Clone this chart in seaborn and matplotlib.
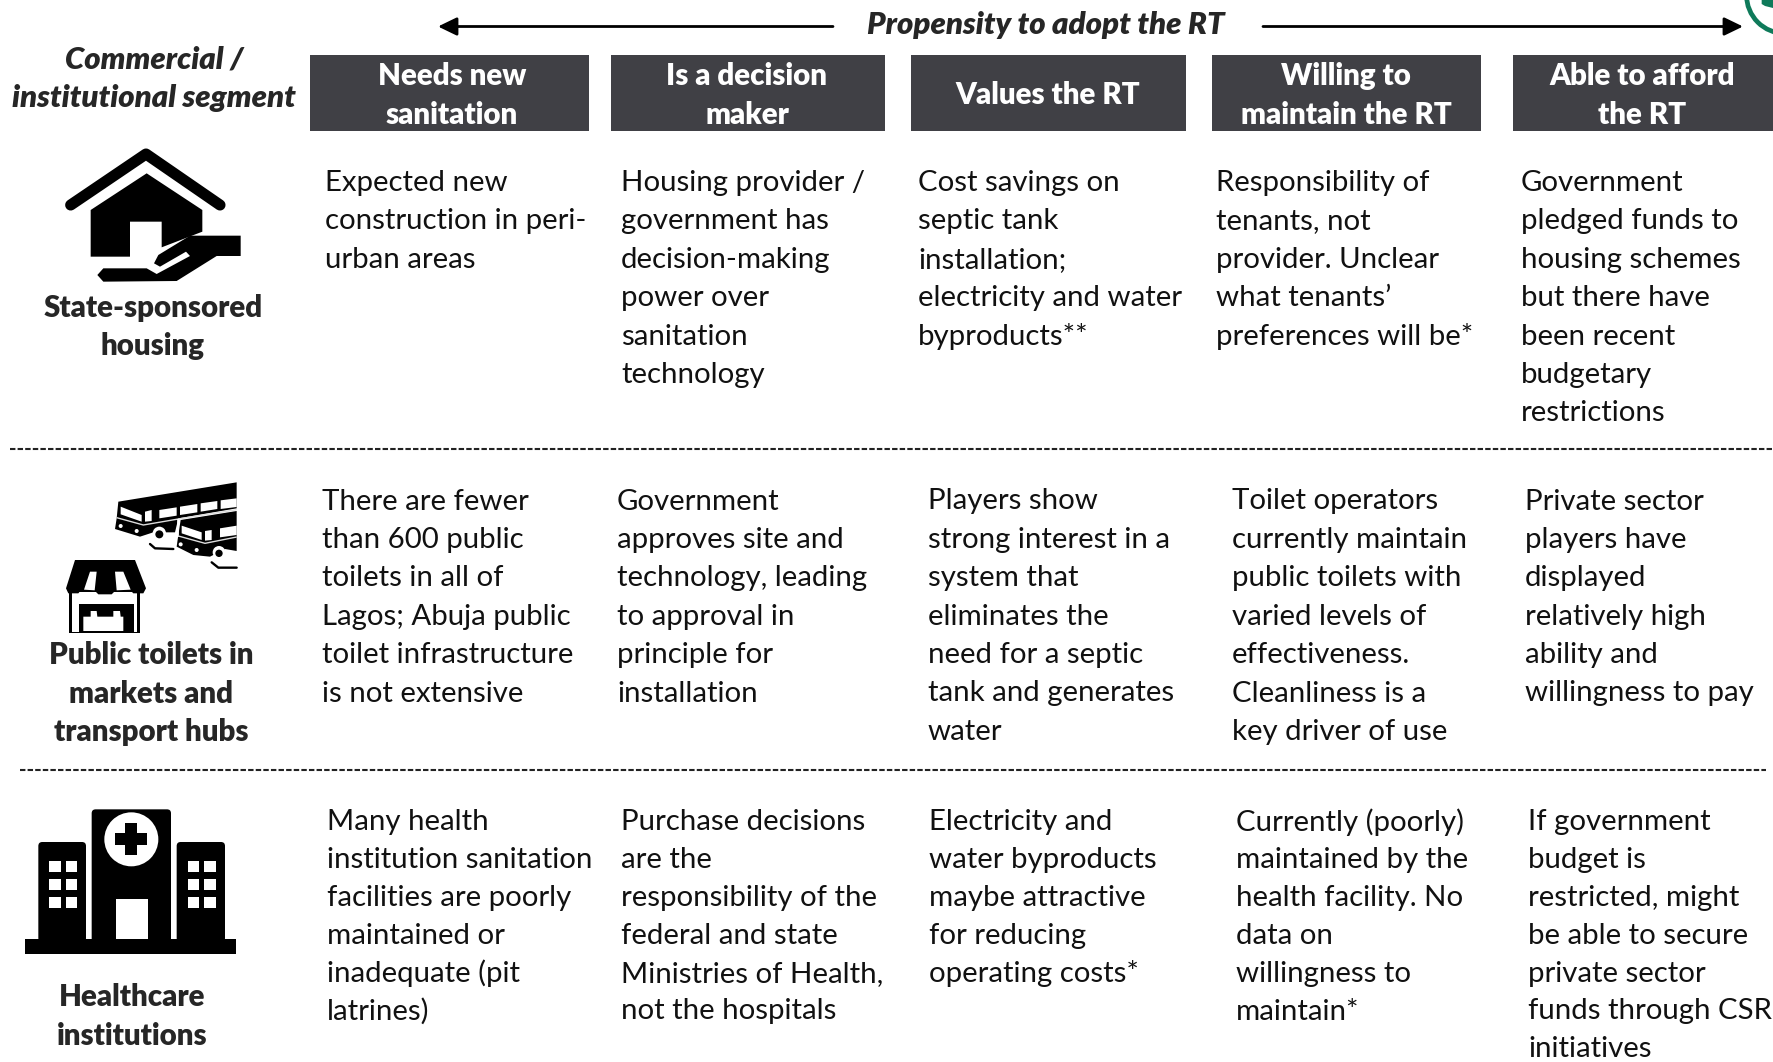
import matplotlib
matplotlib.use("Agg")
import matplotlib.pyplot as plt
from matplotlib.patches import Polygon, Rectangle, FancyBboxPatch, Circle
import seaborn as sns

sns.set_theme(style="white")
plt.rcParams['font.family'] = ['Lato', 'DejaVu Sans']

HEADER_COLOR = "#404045"
GREEN = "#0f7a5a"
BODY_SIZE = 21.15
BOLD_SIZE = 21.25
BOLD_WEIGHT = 800
LINE_H = 38.4

title = "Propensity to adopt the RT"
segment_title = ["Commercial /", "institutional segment"]
headers = ["Needs new\nsanitation", "Is a decision\nmaker", "Values the RT",
           "Willing to\nmaintain the RT", "Able to afford\nthe RT"]
header_left = [310, 611, 911, 1212, 1513]
header_right = [589, 885, 1186, 1481, 1773]
header_center = [452, 747, 1048, 1346, 1642]

row_labels = ["State-sponsored\nhousing", "Public toilets in\nmarkets and\ntransport hubs",
              "Healthcare\ninstitutions"]
row_label_x = [153, 151, 132]
row_label_y = [308, 655.5, 997.5]

col_x = [[325, 621, 918, 1216, 1521],
         [322, 617, 928, 1232, 1525],
         [327, 621, 929, 1236, 1528]]
row_y = [183, 501.5, 822]
row_step = [38.4, 38.4, 37.9]

cells = [
    ["Expected new\nconstruction in peri-\nurban areas",
     "Housing provider /\ngovernment has\ndecision-making\npower over\nsanitation\ntechnology",
     "Cost savings on\nseptic tank\ninstallation;\nelectricity and water\nbyproducts**",
     "Responsibility of\ntenants, not\nprovider. Unclear\nwhat tenants’\npreferences will be*",
     "Government\npledged funds to\nhousing schemes\nbut there have\nbeen recent\nbudgetary\nrestrictions"],
    ["There are fewer\nthan 600 public\ntoilets in all of\nLagos; Abuja public\ntoilet infrastructure\nis not extensive",
     "Government\napproves site and\ntechnology, leading\nto approval in\nprinciple for\ninstallation",
     "Players show\nstrong interest in a\nsystem that\neliminates the\nneed for a septic\ntank and generates\nwater",
     "Toilet operators\ncurrently maintain\npublic toilets with\nvaried levels of\neffectiveness.\nCleanliness is a\nkey driver of use",
     "Private sector\nplayers have\ndisplayed\nrelatively high\nability and\nwillingness to pay"],
    ["Many health\ninstitution sanitation\nfacilities are poorly\nmaintained or\ninadequate (pit\nlatrines)",
     "Purchase decisions\nare the\nresponsibility of the\nfederal and state\nMinistries of Health,\nnot the hospitals",
     "Electricity and\nwater byproducts\nmaybe attractive\nfor reducing\noperating costs*",
     "Currently (poorly)\nmaintained by the\nhealth facility. No\ndata on\nwillingness to\nmaintain*",
     "If government\nbudget is\nrestricted, might\nbe able to secure\nprivate sector\nfunds through CSR\ninitiatives"],
]

fig = plt.figure(figsize=(17.73, 10.62), dpi=100, facecolor="white")
ax = fig.add_axes([0, 0, 1, 1])
ax.set_xlim(0, 1773)
ax.set_ylim(1062, 0)
ax.axis("off")


def lines(txt, x, y, step, **kw):
    for i, p in enumerate(txt.split("\n")):
        ax.text(x, y + i * step, p, va="center", **kw)


def poly(pts, ox=0.0, oy=0.0, s=1 / 3, color="black", **kw):
    ax.add_patch(Polygon([(ox + a * s, oy + b * s) for a, b in pts],
                         closed=True, facecolor=color, edgecolor="none", **kw))


def stroke(pts, ox=0.0, oy=0.0, s=1 / 3, lw=3, color="black", cap="round"):
    ax.plot([ox + a * s for a, _ in pts], [oy + b * s for _, b in pts], color=color,
            lw=lw, solid_capstyle=cap, solid_joinstyle="round")


def disc(cx, cy, r, ox=0.0, oy=0.0, s=1 / 3, color="white"):
    ax.add_patch(Circle((ox + cx * s, oy + cy * s), r * s, facecolor=color, edgecolor="none"))


# --- top arrows and title
for tail, tip in [(833, 438), (1263, 1743)]:
    ax.annotate("", xy=(tip, 26.5), xytext=(tail, 26.5),
                arrowprops=dict(arrowstyle="-|>,head_length=0.95,head_width=0.46", color="black",
                                lw=2.0, shrinkA=0, shrinkB=0, mutation_scale=12))
ax.text(1046, 25, title, ha="center", va="center", fontsize=22.4, fontweight=BOLD_WEIGHT, style="italic")
for i, p in enumerate(segment_title):
    ax.text(154, 60 + i * LINE_H, p, ha="center", va="center", fontsize=22.4,
            fontweight=BOLD_WEIGHT, style="italic")

# --- green ring clipped at the corner
ax.add_patch(Circle((1785, -5), 38.5, facecolor="none", edgecolor=GREEN, lw=3.4))
poly([(185, 0), (219, 0), (219, 24), (195, 18), (185, 12)], ox=1700, oy=0, color=GREEN)

# --- header boxes
for l, r, c, h in zip(header_left, header_right, header_center, headers):
    ax.add_patch(Rectangle((l, 55), r - l, 76, facecolor=HEADER_COLOR, edgecolor="none"))
    parts = h.split("\n")
    y0 = 95.5 - (len(parts) - 1) * LINE_H / 2
    for i, p in enumerate(parts):
        ax.text(c, y0 + i * LINE_H, p, ha="center", va="center", color="white",
                fontsize=BOLD_SIZE, fontweight=BOLD_WEIGHT)

# --- body cells
for xs, y, step, row in zip(col_x, row_y, row_step, cells):
    for x, cell in zip(xs, row):
        lines(cell, x, y, step, ha="left", fontsize=BODY_SIZE, color="#111111")

# --- row labels
for lab, x, y in zip(row_labels, row_label_x, row_label_y):
    for i, p in enumerate(lab.split("\n")):
        ax.text(x, y + i * LINE_H, p, ha="center", va="center", fontsize=BOLD_SIZE,
                fontweight=BOLD_WEIGHT)

# --- dashed separators
ax.plot([10, 1773], [449, 449], color="#222222", lw=1.5, dashes=(2.6, 1.05))
ax.plot([20, 1766], [770, 770], color="#222222", lw=1.5, dashes=(2.6, 1.05))

# --- house icon
stroke([(212, 615), (438, 462), (660, 615)], lw=8)
poly([(272, 630), (440, 520), (607, 630), (607, 695), (485, 742), (485, 665), (390, 665),
      (390, 770), (272, 770)])
poly([(722, 707), (722, 768), (650, 768), (530, 843), (310, 845), (292, 825), (310, 805),
      (440, 805), (470, 822), (570, 768), (558, 755), (480, 800), (462, 790), (475, 765),
      (570, 707)])

# --- buses (origin 110,475 at 3x)
BX, BY = 110, 475
poly([(25, 80), (380, 22), (380, 100), (205, 130), (195, 172), (130, 172), (90, 185),
      (15, 162), (20, 130)], BX, BY)
for pts in [[(32, 95), (95, 120), (95, 140), (32, 118)],
            [(105, 110), (125, 105), (125, 138), (105, 140)],
            [(148, 105), (200, 97), (200, 122), (148, 130)],
            [(210, 95), (262, 87), (262, 112), (210, 120)],
            [(272, 85), (322, 78), (322, 102), (272, 110)],
            [(332, 76), (380, 70), (380, 96), (332, 102)]]:
    poly(pts, BX, BY, color="white")
stroke([(20, 128), (100, 150), (205, 132), (380, 104)], BX, BY, lw=1.0, color="#dddddd", cap="butt")
stroke([(205, 132), (205, 185)], BX, BY, lw=1.2, color="white", cap="butt")
disc(148, 175, 20, BX, BY)
disc(148, 178, 12, BX, BY, color="black")
disc(32, 153, 6, BX, BY)
disc(80, 168, 6, BX, BY)
stroke([(120, 207), (135, 220), (190, 222)], BX, BY, lw=1.7)

poly([(212, 135), (380, 108), (380, 228), (345, 222), (300, 245), (250, 240), (200, 215),
      (205, 180)], BX, BY)
for pts in [[(215, 152), (275, 172), (275, 195), (215, 175)],
            [(285, 168), (305, 165), (305, 195), (285, 197)],
            [(330, 160), (380, 152), (380, 180), (330, 187)]]:
    poly(pts, BX, BY, color="white")
stroke([(205, 183), (285, 205), (380, 186)], BX, BY, lw=1.0, color="#dddddd", cap="butt")
disc(327, 232, 19, BX, BY)
disc(327, 235, 11, BX, BY, color="black")
disc(212, 208, 6, BX, BY)
disc(260, 225, 6, BX, BY)
stroke([(305, 262), (325, 278), (380, 278)], BX, BY, lw=1.7)

# --- store (origin 60,555 at 3x)
SX, SY = 60, 555
poly([(28, 100), (240, 100), (240, 235), (28, 235)], SX, SY)
poly([(37, 112), (231, 112), (231, 232), (37, 232)], SX, SY, color="white")
poly([(58, 148), (222, 148), (222, 232), (58, 232)], SX, SY)
poly([(70, 185), (92, 185), (92, 168), (110, 168), (112, 185), (160, 185), (160, 168),
      (180, 168), (182, 185), (190, 185), (190, 228), (70, 228)], SX, SY, color="white")
poly([(45, 15), (225, 15), (258, 100), (250, 115), (220, 115), (208, 103), (170, 103),
      (155, 118), (115, 118), (100, 103), (65, 103), (55, 115), (25, 115), (18, 100)], SX, SY)
poly([(72, 104), (90, 50), (110, 50), (104, 106)], SX, SY, color="white")
poly([(165, 50), (190, 50), (212, 104), (170, 106)], SX, SY, color="white")

# --- hospital
O3 = 780
ax.add_patch(Rectangle((75 / 3, O3 + 476 / 3), 634 / 3, 46 / 3, facecolor="black", edgecolor="none"))
for l, t, w, h in [(115, 186, 143, 300), (275, 88, 238, 400), (530, 186, 145, 300)]:
    ax.add_patch(FancyBboxPatch((l / 3 + 3, O3 + t / 3 + 3), w / 3 - 6, h / 3 - 6,
                                boxstyle="round,pad=3,rounding_size=4", facecolor="black", edgecolor="none"))
disc(394, 178, 81, 0, O3)
poly([(376, 130), (412, 130), (412, 160), (442, 160), (442, 196), (412, 196), (412, 226),
      (376, 226), (376, 196), (344, 196), (344, 160), (376, 160)], oy=O3)
ax.add_patch(Rectangle((347 / 3, O3 + 358 / 3), 96 / 3, 118 / 3, facecolor="white", edgecolor="none"))
for gx in [148, 198, 563, 613]:
    for gy in [242, 297, 352]:
        ax.add_patch(Rectangle((gx / 3, O3 + gy / 3), 34 / 3, 33 / 3, facecolor="white", edgecolor="none"))

fig.savefig("out.png", dpi=100, facecolor="white")
